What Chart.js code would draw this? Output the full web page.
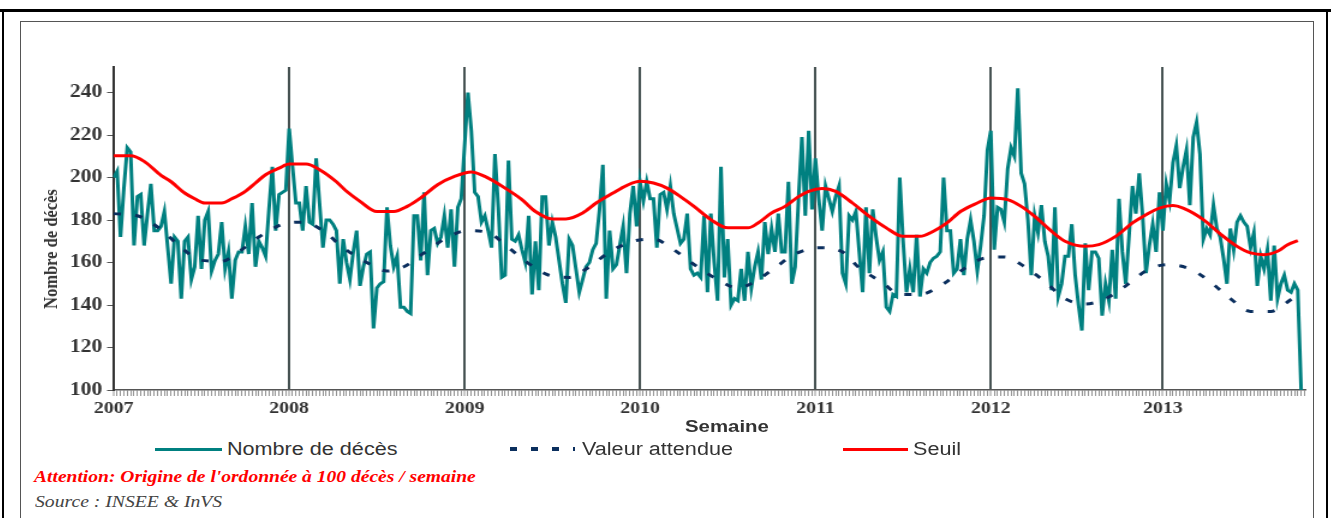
<!DOCTYPE html>
<html>
<head>
<meta charset="utf-8">
<script src="https://cdn.jsdelivr.net/npm/chart.js@4/dist/chart.umd.min.js"></script>
<style>
    html, body {
        margin: 0;
        padding: 0;
        background: #fff;
        overflow: hidden;
    }
    #page {
        position: relative;
        width: 1331px;
        height: 518px;
        overflow: hidden;
    }
    .abs {
        position: absolute;
        white-space: nowrap;
    }
    .stretch {
        transform: scaleX(1.2);
        transform-origin: 0 50%;
    }
    #chartBox {
        position: absolute;
        left: 20px;
        top: 22px;
        width: 1077.5px;
        height: 398px;
        transform: scaleX(1.2);
        transform-origin: 0 0;
    }
    .legendText {
        font-family: "Liberation Sans", Arial, sans-serif;
        font-size: 18px;
        line-height: 20px;
        color: #333;
    }
</style>
</head>
<body>
<div id="page">

    <!-- frames -->
    <div class="abs" style="left:0; top:9px; width:1331px; height:3px; background:#000;"></div>
    <div class="abs" style="left:2px; top:9px; width:2px; height:520px; background:#000;"></div>
    <div class="abs" style="left:1326px; top:9px; width:2px; height:520px; background:#000;"></div>
    <div class="abs" style="left:20px; top:21px; width:1292px; height:520px; border:1.5px solid #555;"></div>

    <div id="chartBox"><canvas id="chart"></canvas></div>

    <!-- axis titles -->
    <div class="abs" style="left:51px; top:249px; transform: translate(-50%, -50%) scaleX(1.2) rotate(-90deg);
         font-family:'Liberation Serif','Times New Roman',serif; font-weight:bold; font-size:16.5px; color:#333;">
        Nombre de décès
    </div>
    <div class="abs stretch" style="left:685px; top:417px; font-family:'Liberation Sans',Arial,sans-serif;
         font-weight:bold; font-size:17px; line-height:20px; color:#333;">Semaine</div>

    <!-- legend -->
    <div class="abs" style="left:155px; top:447.5px; width:67px; height:3px; background:#008080;"></div>
    <div class="abs stretch legendText" style="left:227px; top:439px;">Nombre de décès</div>

    <div class="abs" style="left:510px; top:447px; width:65px; height:4px;
         background: repeating-linear-gradient(to right, #0b2f5e 0 7px, transparent 7px 21px);"></div>
    <div class="abs stretch legendText" style="left:582px; top:439px;">Valeur attendue</div>

    <div class="abs" style="left:843px; top:447.5px; width:65px; height:3px; background:#ff0000;"></div>
    <div class="abs stretch legendText" style="left:913px; top:439px;">Seuil</div>

    <!-- notes -->
    <div class="abs stretch" style="left:34px; top:467px; font-family:'Liberation Serif','Times New Roman',serif;
         font-style:italic; font-weight:bold; font-size:16.3px; line-height:20px; color:#ff0000;">
        Attention: Origine de l'ordonnée à 100 décès / semaine</div>
    <div class="abs stretch" style="left:35px; top:492px; font-family:'Liberation Serif','Times New Roman',serif;
         font-style:italic; font-size:16.4px; line-height:20px; color:#444;">
        Source : INSEE &amp; InVS</div>
</div>

<script>
// axis labels
const years = ["2007", "2008", "2009", "2010", "2011", "2012", "2013"];
const yearStartWeek = [0, 52, 104, 156, 208, 260, 311];
const yTicks = [100, 120, 140, 160, 180, 200, 220, 240];

// Nombre de décès, one value per week from week 1 of 2007
const deaths = [
    200, 203, 172, 195, 214, 212, 168, 191, 192, 168,
    183, 197, 175, 175, 177, 184, 167, 150, 172, 170,
    143, 170, 172, 152, 158, 182, 157, 180, 184, 156,
    161, 164, 179, 157, 165, 143, 161, 165, 165, 177,
    164, 188, 158, 170, 167, 163, 185, 205, 175, 192,
    193, 194, 223, 205, 188, 188, 175, 196, 179, 178,
    209, 188, 167, 180, 180, 178, 175, 150, 171, 160,
    152, 165, 175, 149, 158, 164, 165, 129, 148, 150,
    151, 186, 168, 158, 163, 139, 139, 137, 136, 182,
    182, 161, 193, 154, 175, 176, 169, 172, 182, 167,
    185, 158, 186, 190, 215, 240, 222, 193, 191, 179,
    182, 175, 167, 211, 186, 153, 154, 208, 171, 170,
    173, 166, 160, 182, 145, 170, 147, 191, 191, 168,
    179, 172, 161, 150, 141, 171, 168, 157, 146, 152,
    158, 160, 166, 169, 185, 206, 143, 175, 157, 159,
    168, 177, 155, 183, 196, 177, 198, 189, 198, 190,
    190, 167, 192, 193, 185, 196, 183, 176, 169, 171,
    183, 157, 154, 155, 153, 182, 146, 183, 160, 142,
    205, 153, 171, 140, 143, 142, 157, 142, 165, 148,
    158, 165, 152, 179, 164, 176, 165, 183, 165, 165,
    198, 150, 158, 190, 219, 182, 222, 185, 209, 190,
    175, 196, 190, 184, 191, 196, 155, 150, 182, 180,
    184, 165, 146, 186, 155, 185, 172, 161, 165, 139,
    137, 145, 144, 200, 170, 146, 157, 146, 173, 144,
    157, 155, 160, 162, 163, 165, 200, 175, 175, 155,
    157, 171, 154, 171, 180, 170, 156, 168, 182, 213,
    222, 166, 186, 185, 179, 204, 214, 210, 242, 202,
    197, 180, 154, 182, 174, 187, 170, 163, 147, 186,
    144, 150, 163, 163, 178, 154, 140, 128, 169, 147,
    165, 165, 162, 135, 150, 142, 166, 143, 190, 165,
    150, 173, 196, 183, 202, 182, 155, 168, 178, 165,
    193, 175, 197, 189, 207, 215, 195, 205, 213, 187,
    219, 226, 211, 171, 176, 173, 187, 176, 172, 162,
    150, 176, 166, 179, 182, 179, 177, 167, 174, 149,
    163, 157, 166, 142, 168, 143, 150, 154, 147, 146,
    150, 147, 100
];

// Valeur attendue (read every few weeks)
const expectedWeek = [0, 7, 14, 20, 26, 32, 37, 43, 50, 56, 62, 68, 75, 81, 86, 92, 98, 105, 111, 117,
    123, 129, 135, 141, 147, 154, 160, 166, 173, 179, 185, 190, 196, 202, 209, 216, 221, 228, 233, 239,
    246, 252, 258, 264, 270, 276, 282, 288, 294, 300, 306, 312, 319, 325, 331, 337, 343, 349, 352];
const expectedValue = [183, 182, 175.5, 167, 161, 160.6, 165, 172, 178, 179, 175, 167, 160, 156, 158, 164.5, 171, 175, 174, 167,
    159.5, 154, 153, 158, 165, 170, 171, 166, 158, 152, 148, 151, 157.5, 164, 167, 165, 157.5, 150.4, 145, 145,
    150, 157, 162, 162.6, 158, 151, 143, 140.5, 143, 149, 156, 159, 157, 151, 143, 137, 137, 142.6, 146];

// Seuil (read every few weeks)
const thresholdWeek = [0, 5, 9, 14, 17, 21, 24, 27, 32, 35, 39, 42, 45, 49, 52, 57, 61, 66, 69, 73,
    78, 83, 87, 91, 96, 101, 106, 110, 116, 121, 125, 130, 134, 139, 143, 148, 152, 156, 160, 164,
    168, 172, 177, 182, 188, 191, 195, 199, 203, 206, 210, 214, 219, 224, 229, 234, 239, 243, 247, 251,
    256, 260, 265, 269, 273, 278, 282, 288, 292, 297, 302, 306, 310, 314, 317, 323, 328, 333, 337, 341,
    345, 348, 351];
const thresholdValue = [210.2, 210.2, 207.6, 201, 198, 192.7, 190, 188, 188, 190, 193.5, 197.4, 201.3, 204.4, 206.3, 206.3, 203.7, 198, 193.5, 188.8,
    184, 184, 186.4, 190.4, 196.6, 200.5, 202.6, 200.5, 195, 189.6, 184, 180.5, 180.5, 183.3, 188, 192.7, 196.2, 198.2, 197.4, 195,
    191, 186.4, 180.2, 176.3, 176.3, 178.6, 183.3, 186.4, 191, 193.5, 194.8, 193.5, 188, 181.7, 176.3, 172.3, 172.3, 174.7, 178.6, 184,
    188, 190.4, 189.6, 186.4, 181.7, 174.7, 170, 167.6, 168.4, 172.3, 178.6, 182.5, 185.6, 186.8, 185.6, 180.2, 173.5, 167.6, 164.5, 163.7,
    165.3, 168.4, 170.3];

const serif = "'Liberation Serif', 'Times New Roman', serif";

function isYearStart(value) {
    return yearStartWeek.includes(value);
}

new Chart(document.getElementById("chart"), {
    type: "line",
    data: {
        datasets: [
            {
                label: "Nombre de décès",
                data: deaths.map((v, i) => ({ x: i, y: v })),
                borderColor: "#008080",
                borderWidth: 3,
                pointRadius: 0,
                tension: 0,
                order: 3
            },
            {
                label: "Valeur attendue",
                data: expectedWeek.map((w, i) => ({ x: w, y: expectedValue[i] })),
                borderColor: "#0b2f5e",
                borderWidth: 3,
                borderDash: [6, 12],
                pointRadius: 0,
                cubicInterpolationMode: "monotone",
                order: 2
            },
            {
                label: "Seuil",
                data: thresholdWeek.map((w, i) => ({ x: w, y: thresholdValue[i] })),
                borderColor: "#ff0000",
                borderWidth: 3,
                pointRadius: 0,
                cubicInterpolationMode: "monotone",
                order: 1
            }
        ]
    },
    options: {
        responsive: true,
        maintainAspectRatio: false,
        animation: false,
        layout: {
            padding: { top: 45, right: 7.5, left: 0, bottom: 0 }
        },
        plugins: {
            legend: { display: false },
            tooltip: { enabled: false }
        },
        scales: {
            x: {
                type: "linear",
                min: -0.2,
                max: 353.2,
                afterBuildTicks: (scale) => {
                    const t = [];
                    for (let w = 0; w <= 353; w++) t.push({ value: w });
                    scale.ticks = t;
                },
                afterFit: (scale) => { scale.height = 30; },
                ticks: {
                    autoSkip: false,
                    maxRotation: 0,
                    minRotation: 0,
                    padding: 3,
                    color: "#333",
                    font: { family: serif, size: 16.5, weight: "bold" },
                    callback: (value) => {
                        const k = yearStartWeek.indexOf(value);
                        return k >= 0 ? years[k] : "";
                    }
                },
                grid: {
                    drawOnChartArea: true,
                    color: (ctx) => ctx.tick && isYearStart(ctx.tick.value) ? "#465252" : "rgba(0,0,0,0)",
                    lineWidth: (ctx) => ctx.tick && isYearStart(ctx.tick.value) ? 2 : 1,
                    tickColor: "#777",
                    tickWidth: 0.8,
                    tickLength: 6
                },
                border: { color: "#555", width: 1.5 }
            },
            y: {
                min: 100,
                max: 252,
                afterBuildTicks: (scale) => {
                    scale.ticks = yTicks.map((v) => ({ value: v }));
                },
                afterFit: (scale) => { scale.width = 77.5; },
                ticks: {
                    padding: 4,
                    color: "#333",
                    font: { family: serif, size: 18, weight: "bold" }
                },
                grid: {
                    drawOnChartArea: false,
                    tickColor: "#555",
                    tickLength: 5
                },
                border: { color: "#333", width: 2 }
            }
        }
    }
});
</script>
</body>
</html>
